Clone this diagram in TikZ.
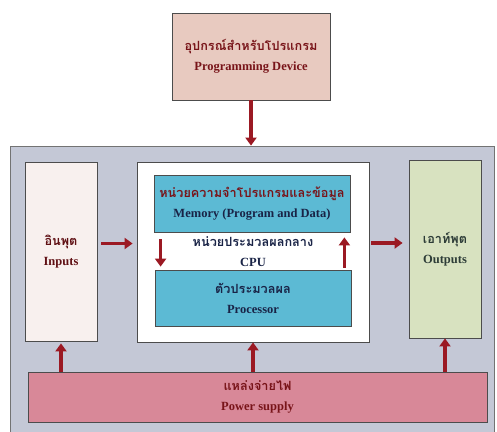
\documentclass[tikz,border=0pt]{standalone}
\usepackage{fontspec}
\setmainfont{Liberation Serif}
\newfontfamily\thaifont[Script=Thai]{Loma}
\usetikzlibrary{calc, arrows.meta, positioning}

\definecolor{boardgray}{RGB}{196,200,214}
\definecolor{progpink}{RGB}{232,202,192}
\definecolor{inpink}{RGB}{248,240,238}
\definecolor{outgreen}{RGB}{216,226,192}
\definecolor{unitblue}{RGB}{92,186,212}
\definecolor{powerpink}{RGB}{216,136,152}
\definecolor{arrowred}{RGB}{155,25,35}
\definecolor{textred}{RGB}{120,20,25}
\definecolor{textnavy}{RGB}{25,35,70}
\definecolor{textgreen}{RGB}{45,60,55}

\newcommand{\thtxt}[1]{{\thaifont\fontsize{12.7}{20}\selectfont #1}}

\begin{document}
\begin{tikzpicture}[x=1pt, y=-1pt,
  every node/.style={font=\bfseries\fontsize{12.5}{20}\selectfont, align=center},
  unit/.style={draw=black!70, line width=0.8pt, inner sep=0pt},
  flow/.style={-{Triangle[length=8pt, width=11pt]}, line width=3.5pt, draw=arrowred}]

\useasboundingbox (0,0) rectangle (497,431);

% Programming device
\node[unit, fill=progpink, minimum width=158pt, minimum height=87pt, text=textred]
  (prog) at (251,56.5) {\thtxt{อุปกรณ์สำหรับโปรแกรม}\\Programming Device};

% Board
\node[draw=black!55, line width=0.8pt, fill=boardgray, minimum width=484pt,
  minimum height=287pt] (board) at (252,289.5) {};

% Inputs
\node[unit, fill=inpink, minimum width=72pt, minimum height=179pt, text=textred!80!black]
  (inp) at (61,251.5) {\thtxt{อินพุต}\\Inputs};

% CPU
\node[unit, fill=white, minimum width=232pt, minimum height=180pt] (cpu) at (253,252) {};
\node[text=textnavy] (cpulbl) at (253,252) {\thtxt{หน่วยประมวลผลกลาง}\\CPU};

% Memory
\node[unit, fill=unitblue, minimum width=196pt, minimum height=57pt, text=textnavy]
  (mem) at (252,203.5) {\thtxt{\color{textred}หน่วยความจำโปรแกรมและข้อมูล}\\Memory (Program and Data)};

% Processor
\node[unit, fill=unitblue, minimum width=196pt, minimum height=56pt, text=textnavy]
  (proc) at (253,298) {\thtxt{ตัวประมวลผล}\\Processor};

% Outputs
\node[unit, fill=outgreen, minimum width=72pt, minimum height=178pt, text=textgreen]
  (outp) at (445,249) {\thtxt{เอาท์พุต}\\Outputs};

% Power supply
\node[unit, fill=powerpink, minimum width=459pt, minimum height=50pt, text=textred]
  (pwr) at (257.5,397) {\thtxt{แหล่งจ่ายไฟ}\\Power supply};

% Arrows
\draw[flow] (prog.south) -- (prog.south |- board.north);
\draw[flow, shorten <=4pt, shorten >=4pt] ([yshift=8pt]inp.east) -- ([yshift=8pt]inp.east -| cpu.west);
\draw[flow, shorten <=2pt, shorten >=6pt] ([yshift=9pt]cpu.east) -- ([yshift=9pt]cpu.east -| outp.west);
\draw[flow, shorten <=7pt, shorten >=3pt] ([xshift=7pt]mem.south west) -- ([xshift=6pt]proc.north west);
\draw[flow, shorten <=2pt, shorten >=5pt] ([xshift=-7pt]proc.north east) -- ([xshift=-6pt]mem.south east);
\draw[flow, shorten >=2pt] (pwr.north -| inp.south) -- (inp.south);
\draw[flow] (pwr.north -| cpu.south) -- (cpu.south);
\draw[flow] (pwr.north -| outp.south) -- (outp.south);

\end{tikzpicture}
\end{document}
